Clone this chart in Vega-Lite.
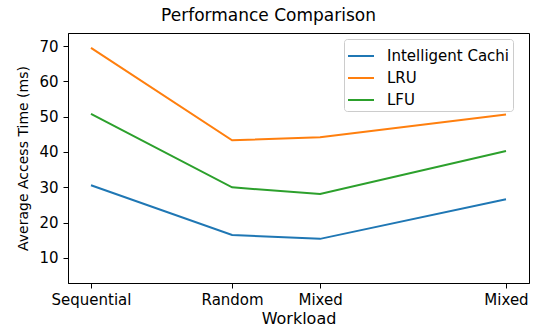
{
  "$schema": "https://vega.github.io/schema/vega-lite/v6.json",
  "width": 461,
  "height": 250,
  "autosize": {"type": "none"},
  "padding": {"left": 68, "top": 33, "right": 6, "bottom": 44},
  "background": "white",
  "title": {"text": "Performance Comparison", "font": "DejaVu Sans", "fontSize": 17, "fontWeight": "normal", "color": "black", "offset": 8, "dx": -30},
  "config": {
    "view": {"stroke": "black", "strokeWidth": 1},
    "axis": {"grid": false, "domainColor": "black", "tickColor": "black", "labelColor": "black", "titleColor": "black", "labelFont": "DejaVu Sans", "titleFont": "DejaVu Sans", "labelFontSize": 15, "titleFontSize": 15, "titleFontWeight": "normal", "tickSize": 5}
  },
  "data": {"values": [
    {"pos": 0, "workload": "Sequential", "method": "Intelligent Caching", "time": 30.6},
    {"pos": 3.4, "workload": "Random", "method": "Intelligent Caching", "time": 16.5},
    {"pos": 5.52, "workload": "Mixed", "method": "Intelligent Caching", "time": 15.4},
    {"pos": 10, "workload": "Mixed", "method": "Intelligent Caching", "time": 26.6},
    {"pos": 0, "workload": "Sequential", "method": "LRU", "time": 69.5},
    {"pos": 3.4, "workload": "Random", "method": "LRU", "time": 43.3},
    {"pos": 5.52, "workload": "Mixed", "method": "LRU", "time": 44.2},
    {"pos": 10, "workload": "Mixed", "method": "LRU", "time": 50.6},
    {"pos": 0, "workload": "Sequential", "method": "LFU", "time": 50.8},
    {"pos": 3.4, "workload": "Random", "method": "LFU", "time": 30.0},
    {"pos": 5.52, "workload": "Mixed", "method": "LFU", "time": 28.1},
    {"pos": 10, "workload": "Mixed", "method": "LFU", "time": 40.3}
  ]},
  "mark": {"type": "line", "strokeWidth": 2, "clip": true},
  "encoding": {
    "x": {"field": "pos", "type": "quantitative", "title": "Workload",
      "scale": {"domain": [-0.554, 10.554], "nice": false, "zero": false},
      "axis": {"values": [0, 3.4, 5.52, 10], "labelExpr": "datum.value == 0 ? 'Sequential' : datum.value == 3.4 ? 'Random' : 'Mixed'", "titlePadding": 3, "labelPadding": 4, "labelFlush": false, "titleFontSize": 16}},
    "y": {"field": "time", "type": "quantitative", "title": "Average Access Time (ms)",
      "scale": {"domain": [2.9, 73.7], "nice": false, "zero": false},
      "axis": {"values": [10, 20, 30, 40, 50, 60, 70], "titlePadding": 8, "labelPadding": 5, "titleFontSize": 14}},
    "color": {"field": "method", "type": "nominal", "sort": ["Intelligent Caching", "LRU", "LFU"],
      "scale": {"domain": ["Intelligent Caching", "LRU", "LFU"], "range": ["#1f77b4", "#ff7f0e", "#2ca02c"]},
      "legend": {"title": null, "orient": "none", "legendX": 276, "legendY": 6, "symbolType": "stroke", "symbolStrokeWidth": 2, "symbolSize": 676, "labelOffset": 12, "labelFont": "DejaVu Sans", "labelFontSize": 15, "labelColor": "black", "fillColor": "white", "strokeColor": "#cccccc", "cornerRadius": 3, "padding": 3, "rowPadding": -5, "labelLimit": 200,
        "labelExpr": "datum.label == 'Intelligent Caching' ? 'Intelligent Cachi' : datum.label"}}
  }
}
